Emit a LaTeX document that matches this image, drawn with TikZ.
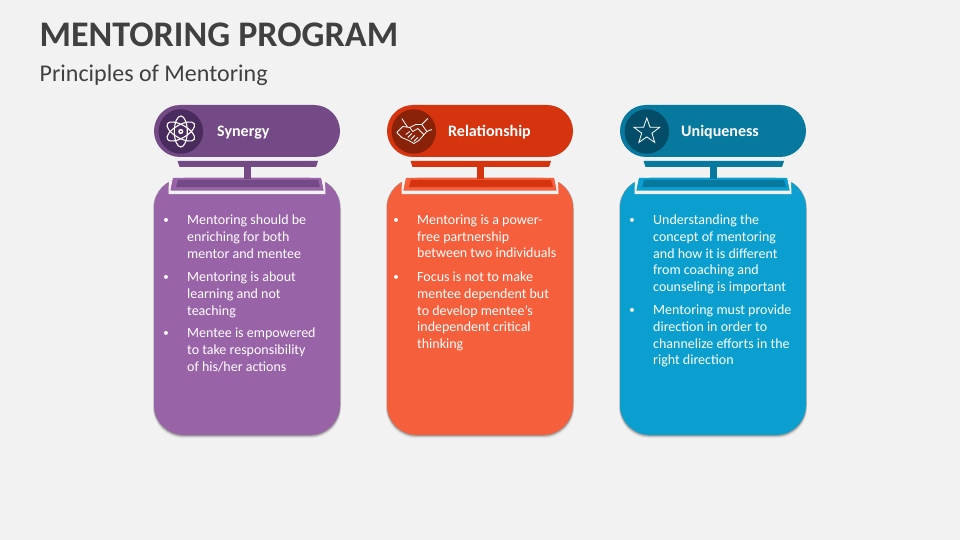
\documentclass[tikz,border=0pt]{standalone}
\usepackage{fontspec}
\setmainfont{Carlito}
\definecolor{bg}{HTML}{F2F2F2}
\definecolor{ink}{HTML}{404040}
\definecolor{pa}{HTML}{734A86}\definecolor{pb}{HTML}{4A2B5D}\definecolor{pc}{HTML}{9963A8}
\definecolor{ra}{HTML}{D5340F}\definecolor{rb}{HTML}{8A2209}\definecolor{rc}{HTML}{F55F3B}
\definecolor{ba}{HTML}{07799F}\definecolor{bb}{HTML}{044D68}\definecolor{bc}{HTML}{0A9FCF}
\tikzset{
  para/.style={anchor=north west,inner sep=0pt,align=left,text=white,font=\fontsize{14}{16.8}\selectfont},
  bul/.style={anchor=base,inner sep=0pt,text=white,font=\fontsize{11}{17}\selectfont},
  head/.style={anchor=base west,inner sep=0pt,text=white,font=\fontsize{16}{17}\selectfont\bfseries},
  ico/.style={draw=white,line width=1.1pt,fill=none},
}
% #1 x0, #2 dark, #3 disk, #4 light, #5 id
\newcommand{\colcard}[5]{%
  \begin{scope}[shift={(#1,0)}]
  \foreach \i/\o in {4/.05,3/.08,2/.12,1/.18}{
    \fill[black,opacity=\o,rounded corners=30pt] (-\i*0.25,178) rectangle (186+\i*0.25,435+\i*0.8);}
  \node[draw=none,fill=#4,rounded corners=30pt,minimum width=186pt,minimum height=257pt,inner sep=0pt] (body#5) at (93,306.5) {};
  \fill[bg] (15,178) -- (19,178) -- (16.5,190) -- (169.5,190) -- (167,178) -- (171,178) -- (171,182) -- (171.5,194) -- (14.5,194) -- cycle;
  \fill[#4] (19,178) -- (167,178) -- (169.5,190.5) -- (16.5,190.5) -- cycle;
  \fill[#2] (24,180) -- (164,180) -- (166,187) -- (22,187) -- cycle;
  \node[draw=none,fill=#2,rounded corners=26pt,minimum width=186pt,minimum height=52pt,inner sep=0pt] (pill#5) at (93,131) {};
  \fill[#2] (23.5,161) -- (164,161) -- (162,167) -- (25.5,167) -- cycle;
  \node[fill=#2,inner sep=0pt,minimum width=7pt,minimum height=12pt] (stem#5) at (93.5,173) {};
  \node[circle,fill=#3,inner sep=0pt,minimum size=44.5pt] (disk#5) at (26.8,131.5) {};
  \end{scope}}
\begin{document}
\begin{tikzpicture}[x=1pt,y=-1pt]
\useasboundingbox (0,0) rectangle (960,540);
\fill[bg] (0,0) rectangle (960,540);
\node[anchor=base west,inner sep=0pt,text=ink,font=\fontsize{36}{40}\selectfont\bfseries] (title) at (39.5,46.6) {MENTORING PROGRAM};
\node[anchor=base west,inner sep=0pt,text=ink,font=\fontsize{24}{28}\selectfont] (subtitle) at (39.5,81.8) {Principles of Mentoring};

\colcard{154}{pa}{pb}{pc}{A}
\colcard{387}{ra}{rb}{rc}{B}
\colcard{620}{ba}{bb}{bc}{C}

% atom icon
\begin{scope}[shift={(diskA)}]
 \foreach \a in {30,90,150}{\draw[ico,rotate=\a] (0,0) ellipse (15.5pt and 6.5pt);}
 \fill[white] (0,0) circle (2.6pt);
 \fill[pb] (0,0) circle (1pt);
\end{scope}
% handshake icon
\begin{scope}[shift={(diskB)}]
 \draw[ico,line width=0.8pt,line join=round]
   (-17,1) -- (-11,-5) -- (-4,-4) -- (2,-7) -- (8,-7) -- (13,0) -- (5,9) -- (0,12) -- (-5,9) -- (-12,6) -- cycle
   (-12,-13) -- (-6,-4) (14,-13) -- (8,-7) (13,0) -- (18,-2)
   (-4,-4) -- (-1,0) -- (4,-3) -- (10,3);
 \draw[ico,line width=0.8pt] (-8,3) -- (-4,0) (-6,6) -- (-2,2) (-3,8) -- (1,4) (0,10) -- (4,6);
\end{scope}
% star icon
\begin{scope}[shift={(diskC)}]
 \draw[ico,line width=0.8pt,line join=miter] (90:13.5pt) -- (126:5.4pt) -- (162:13.5pt) -- (198:5.4pt) -- (234:13.5pt) -- (270:5.4pt) -- (306:13.5pt) -- (342:5.4pt) -- (18:13.5pt) -- (54:5.4pt) -- cycle;
\end{scope}

\node[head] (hA) at (217,136.8) {Synergy};
\node[head] (hB) at (448,136.8) {Relationship};
\node[head] (hC) at (681,136.8) {Uniqueness};

\node[para] (a1) at (187,214.5) {Mentoring should be\\enriching for both\\mentor and mentee};
\node[para] (a2) at (187,271.5) {Mentoring is about\\learning and not\\teaching};
\node[para] (a3) at (187,327.5) {Mentee is empowered\\to take responsibility\\of his/her actions};
\node[bul] (ba1) at (166,223.5) {•};\node[bul] (ba2) at (166,280.5) {•};\node[bul] (ba3) at (166,336.5) {•};

\node[para] (b1) at (417,214.5) {Mentoring is a power-\\free partnership\\between two individuals};
\node[para] (b2) at (417,271.5) {Focus is not to make\\mentee dependent but\\to develop mentee’s\\independent critical\\thinking};
\node[bul] (bb1) at (396,223.5) {•};\node[bul] (bb2) at (396,280.5) {•};

\node[para] (c1) at (653,214.5) {Understanding the\\concept of mentoring\\and how it is different\\from coaching and\\counseling is important};
\node[para] (c2) at (653,304.5) {Mentoring must provide\\direction in order to\\channelize efforts in the\\right direction};
\node[bul] (bc1) at (632,223.5) {•};\node[bul] (bc2) at (632,313.5) {•};
\end{tikzpicture}
\end{document}
